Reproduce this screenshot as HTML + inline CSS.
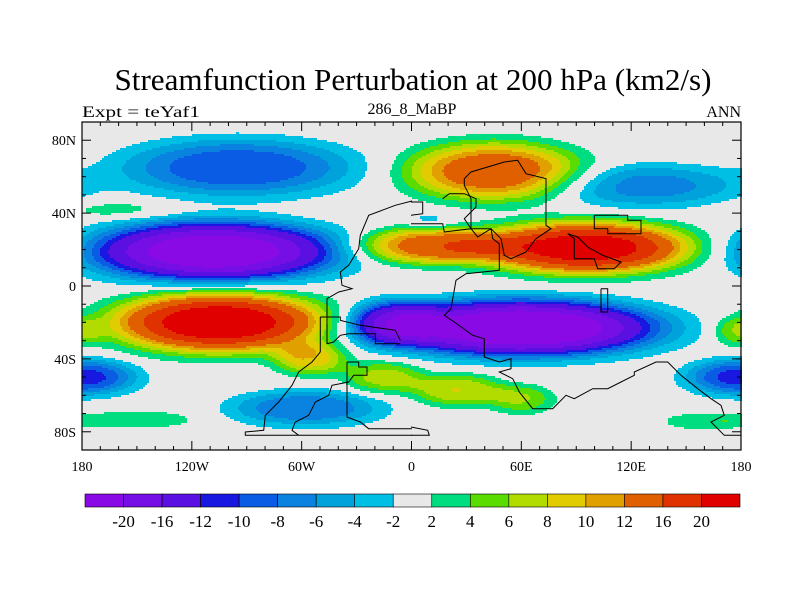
<!DOCTYPE html>
<html><head><meta charset="utf-8"><style>
html,body{margin:0;padding:0;background:#fff;}
svg{display:block;font-family:"Liberation Serif",serif;}
</style></head><body>
<svg id="chart" width="800" height="600" viewBox="0 0 800 600" xmlns="http://www.w3.org/2000/svg">
<rect width="800" height="600" fill="#fff"/>
<text x="413" y="90" font-size="31" text-anchor="middle" textLength="597" lengthAdjust="spacingAndGlyphs">Streamfunction Perturbation at 200 hPa (km2/s)</text>
<text x="82" y="117" font-size="16" textLength="118" lengthAdjust="spacingAndGlyphs">Expt = teYaf1</text>
<text x="412" y="114" font-size="16" text-anchor="middle">286_8_MaBP</text>
<text x="741" y="117" font-size="16" text-anchor="end">ANN</text>
<g id="field" shape-rendering="crispEdges"></g>
<g id="coast" fill="none" stroke="#000" stroke-width="1"></g>
<g id="axes"></g>
<g id="cbar"></g>
</svg>
<script>
// Field features (lon, lat in degrees, amplitude km2/s, half-widths in degrees)
const blobLon = [-108, -105, -55, -15, 25, 60, -95, -160, 45, 95, 10, 60, -10, -58, 180, -150, 160, 128, 178, 10];
const blobLat = [19, -20, -40, -50, -57, -62, 65, 42, 63, 21, 22, -23, -20, -67, -50, -73, -74, 55, -25, 36];
const blobAmp = [-24, 24, 9, 7, 8, 6, -10, 3, 15, 23, 14, -26, -12, -8, -11, 3.5, 3.5, -7, 5, -3];
const blobSx = [66, 57, 20, 22, 25, 18, 64, 32, 48, 57, 40, 72, 25, 42, 30, 35, 25, 52, 14, 12];
const blobSy = [16, 16, 9, 9, 9, 8, 16, 5, 16, 14, 10, 15, 12, 10, 10, 5, 5, 12, 8, 5];
const levels = [-20, -16, -12, -10, -8, -6, -4, -2, 2, 4, 6, 8, 10, 12, 16, 20];
const levelLabels = ["-20","-16","-12","-10","-8","-6","-4","-2","2","4","6","8","10","12","16","20"];
const colors = ["#8a0ae6","#760ee6","#5a10e0","#1818e0","#0a5ce4","#0a82e0","#00a2dc","#00bfe4","#e8e8e8","#00dc80","#5adc00","#b2dc00","#e0cc00","#e0a000","#e06000","#e03200","#e00000"];
const lonTicks = [-180, -120, -60, 0, 60, 120, 180];
const lonTickLabels = ["180","120W","60W","0","60E","120E","180"];
const latTicks = [80, 40, 0, -40, -80];
const latTickLabels = ["80N","40N","0","40S","80S"];

const NS = "http://www.w3.org/2000/svg";
const X0 = 82, X1 = 741, Y0 = 122, Y1 = 450;
const xScale = lon => X0 + (lon + 180) / 360 * (X1 - X0);
const yScale = lat => Y0 + (90 - lat) / 180 * (Y1 - Y0);
const lonOf = x => (x - X0) / (X1 - X0) * 360 - 180;
const latOf = y => 90 - (y - Y0) / (Y1 - Y0) * 180;

function fieldAt(lon, lat) {
  let v = 0;
  for (let i = 0; i < blobAmp.length; i++) {
    let dx = lon - blobLon[i];
    dx = ((dx + 540) % 360) - 180;
    const dy = lat - blobLat[i];
    const r2 = (dx / blobSx[i]) * (dx / blobSx[i]) + (dy / blobSy[i]) * (dy / blobSy[i]);
    v += blobAmp[i] * Math.exp(-Math.pow(r2, 1.4));
  }
  return v;
}
function colorIdx(v) {
  let k = 0;
  while (k < levels.length && v >= levels[k]) k++;
  return k;
}
const field = document.getElementById('field');
const bg = document.createElementNS(NS, 'rect');


bg.setAttribute('x', X0); bg.setAttribute('y', Y0);
bg.setAttribute('width', X1 - X0); bg.setAttribute('height', Y1 - Y0);
bg.setAttribute('fill', '#e8e8e8');
field.appendChild(bg);
const step = 2;
for (let y = Y0; y < Y1; y += step) {
  const lat = latOf(y + step / 2);
  let runStart = X0, runC = -1;
  for (let x = X0; x < X1 + step; x += step) {
    const c = x < X1 ? colorIdx(fieldAt(lonOf(x + step / 2), lat)) : -2;
    if (c !== runC) {
      if (runC >= 0 && runC !== 8) {
        const r = document.createElementNS(NS, 'rect');
        
        
        r.setAttribute('x', runStart); r.setAttribute('y', y);
        r.setAttribute('width', Math.min(x, X1) - runStart + 1); r.setAttribute('height', Math.min(step + 1, Y1 - y));
        r.setAttribute('fill', colors[runC]);
        field.appendChild(r);
      }
      runStart = x; runC = c;
    }
  }
}
// coastlines (zoomed-crop coordinates converted to pixels)
const coastA = [[[990,237],[940,250],[900,265],[860,280],[835,340],[830,380],[800,430],[775,450],[780,490],[810,500],[770,510],[735,530],[735,665],[755,660],[775,640],[800,635],[880,635],[880,665],[955,665]],
 [[715,585],[775,585],[775,595],[835,610],[940,625],[955,655]],
 [[715,585],[715,690],[690,720],[650,750],[630,790],[590,840],[550,880],[545,925],[490,930],[490,940],[990,940]],
 [[795,720],[830,720],[830,735],[855,735],[855,760],[815,760],[800,780],[750,790],[740,820],[700,840],[680,880],[640,900],[630,925],[650,940]],
 [[795,720],[795,885],[835,900],[860,920],[990,920]]];
const coastB = [[[0,240],[35,240],[35,275],[0,280]],
 [[0,305],[95,305],[100,330],[180,320],[200,345],[240,320],[245,350],[265,365],[265,445],[165,455],[135,475],[120,560],[100,580],[130,600],[185,640],[220,650],[220,705],[265,720],[300,710],[300,740],[265,750],[305,770],[325,810],[365,860],[425,860],[465,820],[490,830],[545,800],[590,800],[630,780],[670,760],[670,750],[735,720],[770,720],[810,760],[860,800],[900,830],[930,850],[940,880],[900,900],[940,940],[990,940]],
 [[240,320],[180,320],[180,230],[160,190],[160,170],[180,150],[280,120],[320,115],[345,155],[405,170],[405,310],[420,320],[390,340],[375,350],[345,390],[300,410],[280,400],[270,350],[240,320]],
 [[95,230],[115,215],[160,215],[195,230],[195,255],[180,270],[160,290],[180,320]],
 [[550,280],[650,280],[650,295],[690,295],[690,335],[590,335],[590,320],[550,320],[550,280]],
 [[470,335],[500,345],[530,375],[575,400],[630,420],[610,440],[560,440],[550,410],[490,410],[490,350],[470,335]],
 [[570,500],[590,500],[590,570],[570,570],[570,500]],
 [[0,915],[50,925],[55,940],[0,940]]];
const coast = document.getElementById('coast');
function addCoast(list, ox, oy) {
  list.forEach(seg => {
    const p = document.createElementNS(NS, 'polyline');
    
    
    p.setAttribute('points', seg.map(q => (ox + q[0] / 3).toFixed(1) + ',' + (oy + q[1] / 3).toFixed(1)).join(' '));
    coast.appendChild(p);
  });
}
addCoast(coastA, 82, 122); addCoast(coastB, 411, 122);

// axes
const axes = document.getElementById('axes');
function line(x1, y1, x2, y2, name, w) {
  const l = document.createElementNS(NS, 'line');
  
  
  l.setAttribute('x1', x1); l.setAttribute('y1', y1); l.setAttribute('x2', x2); l.setAttribute('y2', y2);
  l.setAttribute('stroke', '#000'); l.setAttribute('stroke-width', w || 1);
  axes.appendChild(l);
}
function text(x, y, s, anchor, size, name) {
  const t = document.createElementNS(NS, 'text');
  
  
  t.setAttribute('x', x); t.setAttribute('y', y);
  t.setAttribute('text-anchor', anchor); t.setAttribute('font-size', size);
  t.textContent = s;
  axes.appendChild(t);
}
const frame = document.createElementNS(NS, 'rect');


frame.setAttribute('x', X0); frame.setAttribute('y', Y0);
frame.setAttribute('width', X1 - X0); frame.setAttribute('height', Y1 - Y0);
frame.setAttribute('fill', 'none'); frame.setAttribute('stroke', '#000'); frame.setAttribute('stroke-width', 1.2);
axes.appendChild(frame);
for (let lon = -170; lon < 180; lon += 10) {
  const x = xScale(lon);
  const major = lonTicks.includes(lon);
  const L = major ? 9 : 4;
  line(x, Y1, x, Y1 - L, 'x-tick', 1);
  line(x, Y0, x, Y0 + L, 'x-tick', 1);
}
for (let lat = -80; lat <= 80; lat += 10) {
  const y = yScale(lat);
  const major = latTicks.includes(lat);
  const L = major ? 9 : 4;
  line(X0, y, X0 + L, y, 'y-tick', 1);
  line(X1, y, X1 - L, y, 'y-tick', 1);
}
lonTicks.forEach((lon, i) => text(xScale(lon), 471, lonTickLabels[i], 'middle', 14, 'x-tick-label'));
latTicks.forEach((lat, i) => text(X0 - 6, yScale(lat) + 5, latTickLabels[i], 'end', 14, 'y-tick-label'));

// colorbar
const cbar = document.getElementById('cbar');
const CB0 = 85, CB1 = 740, CBY = 494, CBH = 13;
const bw = (CB1 - CB0) / colors.length;
colors.forEach((c, i) => {
  const r = document.createElementNS(NS, 'rect');
  
  
  r.setAttribute('x', CB0 + i * bw); r.setAttribute('y', CBY);
  r.setAttribute('width', bw); r.setAttribute('height', CBH);
  r.setAttribute('fill', c); r.setAttribute('stroke', '#000'); r.setAttribute('stroke-width', 0.6);
  cbar.appendChild(r);
});
levelLabels.forEach((s, i) => {
  const t = document.createElementNS(NS, 'text');
  
  
  t.setAttribute('x', CB0 + (i + 1) * bw); t.setAttribute('y', 527);
  t.setAttribute('text-anchor', 'middle'); t.setAttribute('font-size', 17);
  t.textContent = s;
  cbar.appendChild(t);
});
</script>
</body></html>
